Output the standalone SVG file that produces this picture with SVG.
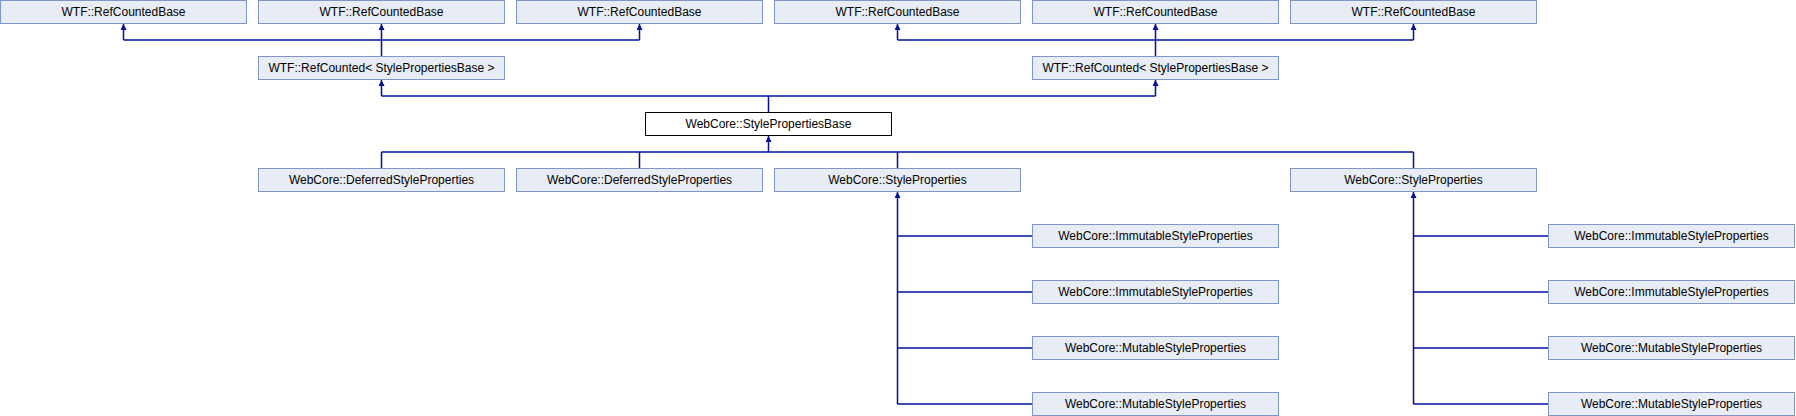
<svg xmlns="http://www.w3.org/2000/svg" width="1796" height="416" viewBox="0 0 1796 416">
<style>
.n rect{fill:#e8ecf5;stroke:#8096cb;stroke-width:1}
.n.cur rect{fill:#ffffff;stroke:#000000}
.n text{font-family:"Liberation Sans",Arial,sans-serif;font-size:12px;fill:#000000;text-anchor:middle}
#edges path{fill:none;stroke:#000f9c;stroke-width:1.5}
#edges path.a{marker-end:url(#arr)}
</style>
<defs>
<marker id="arr" viewBox="0 0 10 10" refX="10" refY="5" markerUnits="userSpaceOnUse" markerWidth="7" markerHeight="6" orient="auto">
<path d="M0,0 L10,5 L0,10 z" fill="#000f9c" stroke="none"/>
</marker>
</defs>
<rect width="1796" height="416" fill="#ffffff"/>
<g id="edges">
<path d="M123.5,40 H639.5"/>
<path class="a" d="M123.5,40 V24"/>
<path class="a" d="M639.5,40 V24"/>
<path class="a" d="M381.5,56.5 V24"/>
<path d="M897.5,40 H1413.5"/>
<path class="a" d="M897.5,40 V24"/>
<path class="a" d="M1413.5,40 V24"/>
<path class="a" d="M1155.5,56.5 V24"/>
<path d="M381.5,96 H1155.5"/>
<path class="a" d="M381.5,96 V80"/>
<path class="a" d="M1155.5,96 V80"/>
<path d="M768.5,96 V112.5"/>
<path d="M381.5,152 H1413.5"/>
<path class="a" d="M768.5,152 V136"/>
<path d="M381.5,152 V168.5"/>
<path d="M639.5,152 V168.5"/>
<path d="M897.5,152 V168.5"/>
<path d="M1413.5,152 V168.5"/>
<path class="a" d="M897.5,404 V192"/>
<path d="M897.5,236 H1032.5"/>
<path d="M897.5,292 H1032.5"/>
<path d="M897.5,348 H1032.5"/>
<path d="M897.5,404 H1032.5"/>
<path class="a" d="M1413.5,404 V192"/>
<path d="M1413.5,236 H1548.5"/>
<path d="M1413.5,292 H1548.5"/>
<path d="M1413.5,348 H1548.5"/>
<path d="M1413.5,404 H1548.5"/>
</g>
<g id="rcb1" class="n"><rect x="0.5" y="0.5" width="246" height="23"/><text x="123.5" y="16">WTF::RefCountedBase</text></g>
<g id="rcb2" class="n"><rect x="258.5" y="0.5" width="246" height="23"/><text x="381.5" y="16">WTF::RefCountedBase</text></g>
<g id="rcb3" class="n"><rect x="516.5" y="0.5" width="246" height="23"/><text x="639.5" y="16">WTF::RefCountedBase</text></g>
<g id="rcb4" class="n"><rect x="774.5" y="0.5" width="246" height="23"/><text x="897.5" y="16">WTF::RefCountedBase</text></g>
<g id="rcb5" class="n"><rect x="1032.5" y="0.5" width="246" height="23"/><text x="1155.5" y="16">WTF::RefCountedBase</text></g>
<g id="rcb6" class="n"><rect x="1290.5" y="0.5" width="246" height="23"/><text x="1413.5" y="16">WTF::RefCountedBase</text></g>
<g id="rc1" class="n"><rect x="258.5" y="56.5" width="246" height="23"/><text x="381.5" y="72" xml:space="preserve">WTF::RefCounted&lt; StylePropertiesBase &gt;</text></g>
<g id="rc2" class="n"><rect x="1032.5" y="56.5" width="246" height="23"/><text x="1155.5" y="72" xml:space="preserve">WTF::RefCounted&lt; StylePropertiesBase &gt;</text></g>
<g id="spb" class="n cur"><rect x="645.5" y="112.5" width="246" height="23"/><text x="768.5" y="128">WebCore::StylePropertiesBase</text></g>
<g id="dsp1" class="n"><rect x="258.5" y="168.5" width="246" height="23"/><text x="381.5" y="184">WebCore::DeferredStyleProperties</text></g>
<g id="dsp2" class="n"><rect x="516.5" y="168.5" width="246" height="23"/><text x="639.5" y="184">WebCore::DeferredStyleProperties</text></g>
<g id="sp1" class="n"><rect x="774.5" y="168.5" width="246" height="23"/><text x="897.5" y="184">WebCore::StyleProperties</text></g>
<g id="sp2" class="n"><rect x="1290.5" y="168.5" width="246" height="23"/><text x="1413.5" y="184">WebCore::StyleProperties</text></g>
<g id="isp1" class="n"><rect x="1032.5" y="224.5" width="246" height="23"/><text x="1155.5" y="240">WebCore::ImmutableStyleProperties</text></g>
<g id="isp2" class="n"><rect x="1032.5" y="280.5" width="246" height="23"/><text x="1155.5" y="296">WebCore::ImmutableStyleProperties</text></g>
<g id="msp1" class="n"><rect x="1032.5" y="336.5" width="246" height="23"/><text x="1155.5" y="352">WebCore::MutableStyleProperties</text></g>
<g id="msp2" class="n"><rect x="1032.5" y="392.5" width="246" height="23"/><text x="1155.5" y="408">WebCore::MutableStyleProperties</text></g>
<g id="isp3" class="n"><rect x="1548.5" y="224.5" width="246" height="23"/><text x="1671.5" y="240">WebCore::ImmutableStyleProperties</text></g>
<g id="isp4" class="n"><rect x="1548.5" y="280.5" width="246" height="23"/><text x="1671.5" y="296">WebCore::ImmutableStyleProperties</text></g>
<g id="msp3" class="n"><rect x="1548.5" y="336.5" width="246" height="23"/><text x="1671.5" y="352">WebCore::MutableStyleProperties</text></g>
<g id="msp4" class="n"><rect x="1548.5" y="392.5" width="246" height="23"/><text x="1671.5" y="408">WebCore::MutableStyleProperties</text></g>
</svg>
